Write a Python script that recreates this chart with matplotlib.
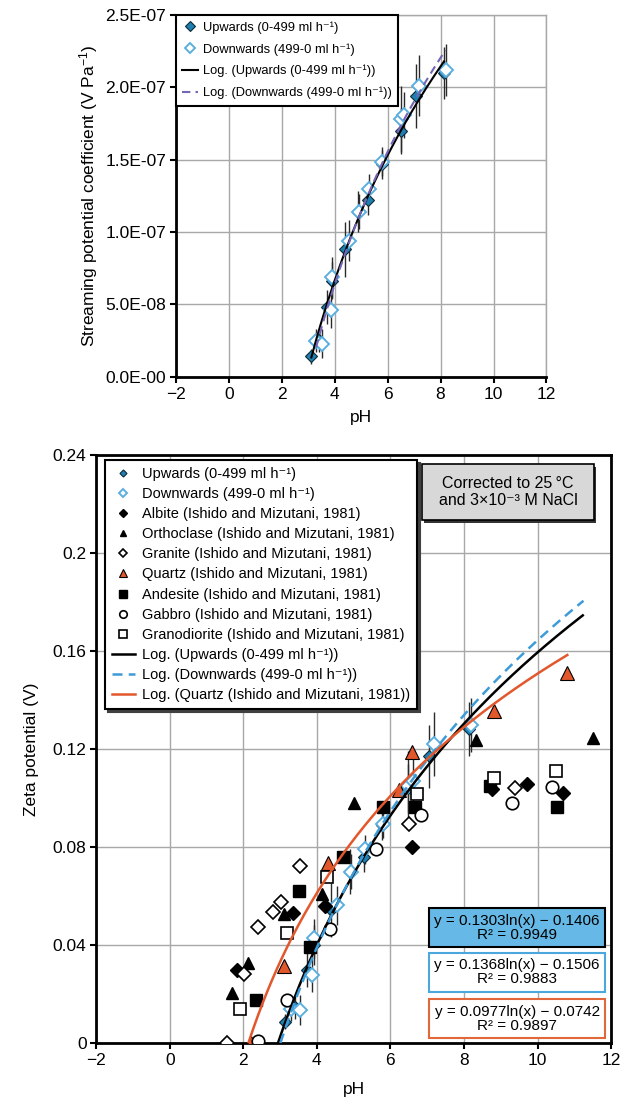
import matplotlib
matplotlib.use("Agg")
import matplotlib.pyplot as plt
import numpy as np
from matplotlib.patches import Rectangle

plt.rcParams['font.family'] = ['Liberation Sans', 'DejaVu Sans']
plt.rcParams['mathtext.fontset'] = 'custom'
plt.rcParams['mathtext.rm'] = 'Liberation Sans'
plt.rcParams['mathtext.it'] = 'Liberation Sans:italic'
plt.rcParams['mathtext.sf'] = 'Liberation Sans'

# --- streaming potential coefficient vs pH (upper panel) ---
up_ph = [3.12, 3.41, 3.72, 3.91, 4.38, 4.89, 5.27, 5.77, 6.49, 7.06, 8.13]
up_spc = [1.42e-8, 2.52e-8, 4.82e-8, 6.65e-8, 8.83e-8, 1.142e-7, 1.22e-7, 1.468e-7, 1.697e-7, 1.938e-7, 2.10e-7]
up_spc_err = [0.5e-8, 0.8e-8, 1.2e-8, 1.3e-8, 1.9e-8, 1.4e-8, 1.0e-8, 1.0e-8, 1.6e-8, 2.2e-8, 1.8e-8]

dn_ph = [3.30, 3.53, 3.87, 3.91, 4.54, 4.92, 5.30, 5.80, 6.49, 6.62, 7.18, 8.19]
dn_spc = [2.5e-8, 2.3e-8, 4.6e-8, 6.9e-8, 9.4e-8, 1.14e-7, 1.30e-7, 1.486e-7, 1.78e-7, 1.81e-7, 2.01e-7, 2.12e-7]
dn_spc_err = [0.8e-8, 1.0e-8, 1.2e-8, 1.4e-8, 1.4e-8, 1.2e-8, 1.0e-8, 1.0e-8, 2.3e-8, 1.6e-8, 2.1e-8, 1.8e-8]

spc_ticks = [0, 5e-8, 1e-7, 1.5e-7, 2e-7, 2.5e-7]
spc_ticklabels = ["0.0E-00", "5.0E-08", "1.0E-07", "1.5E-07", "2.0E-07", "2.5E-07"]

# --- zeta potential vs pH (lower panel) ---
up_zeta = [0.0087, 0.0148, 0.0298, 0.040, 0.0543, 0.070, 0.076, 0.089, 0.104, 0.117, 0.128]
up_zeta_err = [0.003, 0.005, 0.007, 0.008, 0.011, 0.009, 0.006, 0.006, 0.010, 0.013, 0.011]
dn_zeta = [0.014, 0.0135, 0.0277, 0.0427, 0.0563, 0.070, 0.079, 0.0896, 0.105, 0.107, 0.122, 0.1297]
dn_zeta_err = [0.005, 0.006, 0.007, 0.008, 0.008, 0.007, 0.006, 0.006, 0.014, 0.010, 0.013, 0.011]

albite_ph = [1.82, 3.34, 4.22, 6.60, 8.75, 9.71, 10.70]
albite_z = [0.0298, 0.0532, 0.0558, 0.080, 0.1035, 0.1057, 0.1019]
orthoclase_ph = [1.69, 2.14, 3.11, 4.13, 5.02, 8.33, 11.50]
orthoclase_z = [0.0205, 0.0328, 0.0526, 0.0608, 0.0978, 0.1236, 0.1247]
granite_ph = [1.55, 2.02, 2.41, 2.82, 3.03, 3.53, 6.51, 9.39]
granite_z = [0.0, 0.0282, 0.0472, 0.0536, 0.0574, 0.0724, 0.0896, 0.104]
quartz_ph = [2.20, 3.11, 4.31, 6.22, 6.58, 8.82, 10.79]
quartz_z = [0.0, 0.0315, 0.0733, 0.1032, 0.1189, 0.1355, 0.151]
andesite_ph = [2.34, 3.50, 3.82, 4.70, 5.81, 6.68, 8.71, 10.52]
andesite_z = [0.0175, 0.0621, 0.0393, 0.076, 0.0964, 0.0965, 0.105, 0.0964]
gabbro_ph = [2.41, 3.20, 4.36, 5.62, 6.82, 9.30, 10.39]
gabbro_z = [0.001, 0.0175, 0.0464, 0.0793, 0.093, 0.0978, 0.1046]
granodiorite_ph = [1.91, 3.20, 4.27, 6.73, 8.82, 10.50]
granodiorite_z = [0.0137, 0.045, 0.0676, 0.1015, 0.108, 0.111]

# logarithmic trend lines y = a ln(x) + b, with the end pH of each drawn line
fit_up = (0.1303, -0.1406, 0.9949, 11.23)
fit_dn = (0.1368, -0.1506, 0.9883, 11.25)
fit_qz = (0.0977, -0.0742, 0.9897, 10.81)

zeta_ticks = [0, 0.04, 0.08, 0.12, 0.16, 0.2, 0.24]
zeta_ticklabels = ["0", "0.04", "0.08", "0.12", "0.16", "0.2", "0.24"]
ph_ticks = [-2, 0, 2, 4, 6, 8, 10, 12]

UP_FACE = '#1f7fae'
UP_EDGE = '#0b2a3a'
DN_EDGE = '#5aafe0'
QZ = '#e2582c'
GRID = '#a8a8a8'
ERR = '#2a2a2a'

unit = 'ml h\u207b\u00b9'


def log_curve(a, b, x0, x1):
    x = np.linspace(x0, x1, 200)
    return x, a * np.log(x) + b


def style_axes(ax, full_frame):
    ax.set_xlim(-2, 12)
    ax.set_xticks(ph_ticks)
    ax.grid(True, color=GRID, lw=1.0)
    ax.set_axisbelow(True)
    for side in ('left', 'bottom'):
        ax.spines[side].set_linewidth(2.0)
        ax.spines[side].set_color('black')
    for side in ('top', 'right'):
        if full_frame:
            ax.spines[side].set_linewidth(2.0)
            ax.spines[side].set_color('black')
        else:
            ax.spines[side].set_linewidth(1.0)
            ax.spines[side].set_color(GRID)
    ax.tick_params(direction='out', length=4, width=1.5, labelsize=12.5, pad=3)
    ax.tick_params(top=False, right=False)


fig = plt.figure(figsize=(6.21, 11.02), dpi=100)
ax1 = fig.add_axes([0.283, 0.658, 0.597, 0.3285])
ax2 = fig.add_axes([0.155, 0.0535, 0.829, 0.5336])

# upper panel
style_axes(ax1, False)
ax1.set_ylim(0, 2.5e-7)
ax1.set_yticks(spc_ticks)
ax1.set_yticklabels(spc_ticklabels)

ax1.errorbar(up_ph, up_spc, yerr=up_spc_err, xerr=0.1, fmt='none', ecolor=ERR, elinewidth=1.0, zorder=3)
ax1.errorbar(dn_ph, dn_spc, yerr=dn_spc_err, xerr=0.1, fmt='none', ecolor=ERR, elinewidth=1.0, zorder=3)
ax1.plot(up_ph, up_spc, 'D', ms=6, mfc=UP_FACE, mec=UP_EDGE, mew=0.8, zorder=4,
         label='Upwards (0-499 ' + unit + ')')
ax1.plot(dn_ph, dn_spc, 'D', ms=7, mfc='white', mec=DN_EDGE, mew=1.4, zorder=4,
         label='Downwards (499-0 ' + unit + ')')

a_up, b_up = np.polyfit(np.log(up_ph), up_spc, 1)
a_dn, b_dn = np.polyfit(np.log(dn_ph), dn_spc, 1)
x, y = log_curve(a_up, b_up, up_ph[0], up_ph[-1])
ax1.plot(x, y, color='black', lw=1.5, zorder=5, label='Log. (Upwards (0-499 ' + unit + '))')
x, y = log_curve(a_dn, b_dn, dn_ph[0], dn_ph[-1])
ax1.plot(x, y, color='#7565b5', lw=1.5, ls=(0, (4, 2.5)), zorder=5,
         label='Log. (Downwards (499-0 ' + unit + '))')

leg1 = ax1.legend(loc='upper left', bbox_to_anchor=(0, 1), borderaxespad=0, fontsize=9.3,
                  frameon=True, fancybox=False, edgecolor='black', framealpha=1,
                  labelspacing=0.72, handlelength=1.2, handletextpad=0.4, borderpad=0.5,
                  markerscale=0.8)
leg1.get_frame().set_linewidth(1.5)
ax1.set_xlabel('pH', fontsize=12.5, labelpad=6)
ax1.set_ylabel(r'Streaming potential coefficient (V Pa$^{-1}$)', fontsize=12.5, labelpad=4)

# lower panel
style_axes(ax2, True)
ax2.set_ylim(0, 0.24)
ax2.set_yticks(zeta_ticks)
ax2.set_yticklabels(zeta_ticklabels)

ax2.errorbar(up_ph, up_zeta, yerr=up_zeta_err, xerr=0.08, fmt='none', ecolor=ERR, elinewidth=1.0, zorder=3)
ax2.errorbar(dn_ph, dn_zeta, yerr=dn_zeta_err, xerr=0.08, fmt='none', ecolor=ERR, elinewidth=1.0, zorder=3)

ax2.plot(up_ph, up_zeta, 'D', ms=6, mfc=UP_FACE, mec=UP_EDGE, mew=0.8, zorder=4,
         label='Upwards (0-499 ' + unit + ')')
ax2.plot(dn_ph, dn_zeta, 'D', ms=7, mfc='white', mec=DN_EDGE, mew=1.4, zorder=4,
         label='Downwards (499-0 ' + unit + ')')
ax2.plot(albite_ph, albite_z, 'D', ms=7, mfc='black', mec='black', zorder=4,
         label='Albite (Ishido and Mizutani, 1981)')
ax2.plot(orthoclase_ph, orthoclase_z, '^', ms=8, mfc='black', mec='black', zorder=4,
         label='Orthoclase (Ishido and Mizutani, 1981)')
ax2.plot(granite_ph, granite_z, 'D', ms=7.5, mfc='white', mec='black', mew=1.2, zorder=4,
         label='Granite (Ishido and Mizutani, 1981)')
ax2.plot(quartz_ph, quartz_z, '^', ms=10, mfc=QZ, mec='black', mew=0.8, zorder=4,
         label='Quartz (Ishido and Mizutani, 1981)')
ax2.plot(andesite_ph, andesite_z, 's', ms=8.5, mfc='black', mec='black', zorder=4,
         label='Andesite (Ishido and Mizutani, 1981)')
ax2.plot(gabbro_ph, gabbro_z, 'o', ms=9, mfc='white', mec='black', mew=1.2, zorder=4,
         label='Gabbro (Ishido and Mizutani, 1981)')
ax2.plot(granodiorite_ph, granodiorite_z, 's', ms=8.5, mfc='white', mec='black', mew=1.2, zorder=4,
         label='Granodiorite (Ishido and Mizutani, 1981)')

for (a, b, r2, x1), col, ls, lab in [
        (fit_up, 'black', '-', 'Log. (Upwards (0-499 ' + unit + '))'),
        (fit_dn, '#3d9bd8', (0, (4, 2.5)), 'Log. (Downwards (499-0 ' + unit + '))'),
        (fit_qz, QZ, '-', 'Log. (Quartz (Ishido and Mizutani, 1981))')]:
    x, y = log_curve(a, b, np.exp(-b / a), x1)
    ax2.plot(x, y, color=col, lw=1.8, ls=ls, zorder=5, label=lab)

leg2 = ax2.legend(loc='upper left', bbox_to_anchor=(0.017, 0.991), borderaxespad=0, fontsize=10.5,
                  frameon=True, fancybox=False, edgecolor='black', framealpha=1,
                  labelspacing=0.42, handlelength=1.6, handletextpad=0.5, borderpad=0.45,
                  markerscale=0.6, shadow={'color': '0.25', 'alpha': 1, 'ox': 2, 'oy': -2})
leg2.get_frame().set_linewidth(1.5)
ax2.set_xlabel('pH', fontsize=12.5, labelpad=10)
ax2.set_ylabel('Zeta potential (V)', fontsize=12.5, labelpad=10)

# temperature / salinity note
ax2.add_patch(Rectangle((0.637, 0.885), 0.334, 0.095, transform=ax2.transAxes,
                        fc='0.2', ec='none', zorder=6))
ax2.add_patch(Rectangle((0.633, 0.889), 0.334, 0.095, transform=ax2.transAxes,
                        fc='#d8d8d8', ec='black', lw=1.2, zorder=7))
ax2.text(0.800, 0.9365, 'Corrected to 25\u2009\u00b0C\nand 3\u00d710\u207b\u00b3 M NaCl',
         transform=ax2.transAxes, ha='center', va='center', fontsize=11.5,
         linespacing=1.15, zorder=8)

# trend line equations
eq_boxes = [(fit_up, 0.163, '#66b9e6', 'black'),
            (fit_dn, 0.087, 'white', '#4aa8dc'),
            (fit_qz, 0.0085, 'white', '#e0683a')]
for (a, b, r2, _), y0, fc, ec in eq_boxes:
    ax2.add_patch(Rectangle((0.647, y0), 0.341, 0.066, transform=ax2.transAxes,
                            fc=fc, ec=ec, lw=1.5, zorder=7))
    txt = 'y = %.4fln(x) \u2212 %.4f\nR\u00b2 = %.4f' % (a, -b, r2)
    ax2.text(0.8175, y0 + 0.033, txt, transform=ax2.transAxes, ha='center', va='center',
             fontsize=11, linespacing=1.0, zorder=8)

fig.savefig('out.png', dpi=100)
